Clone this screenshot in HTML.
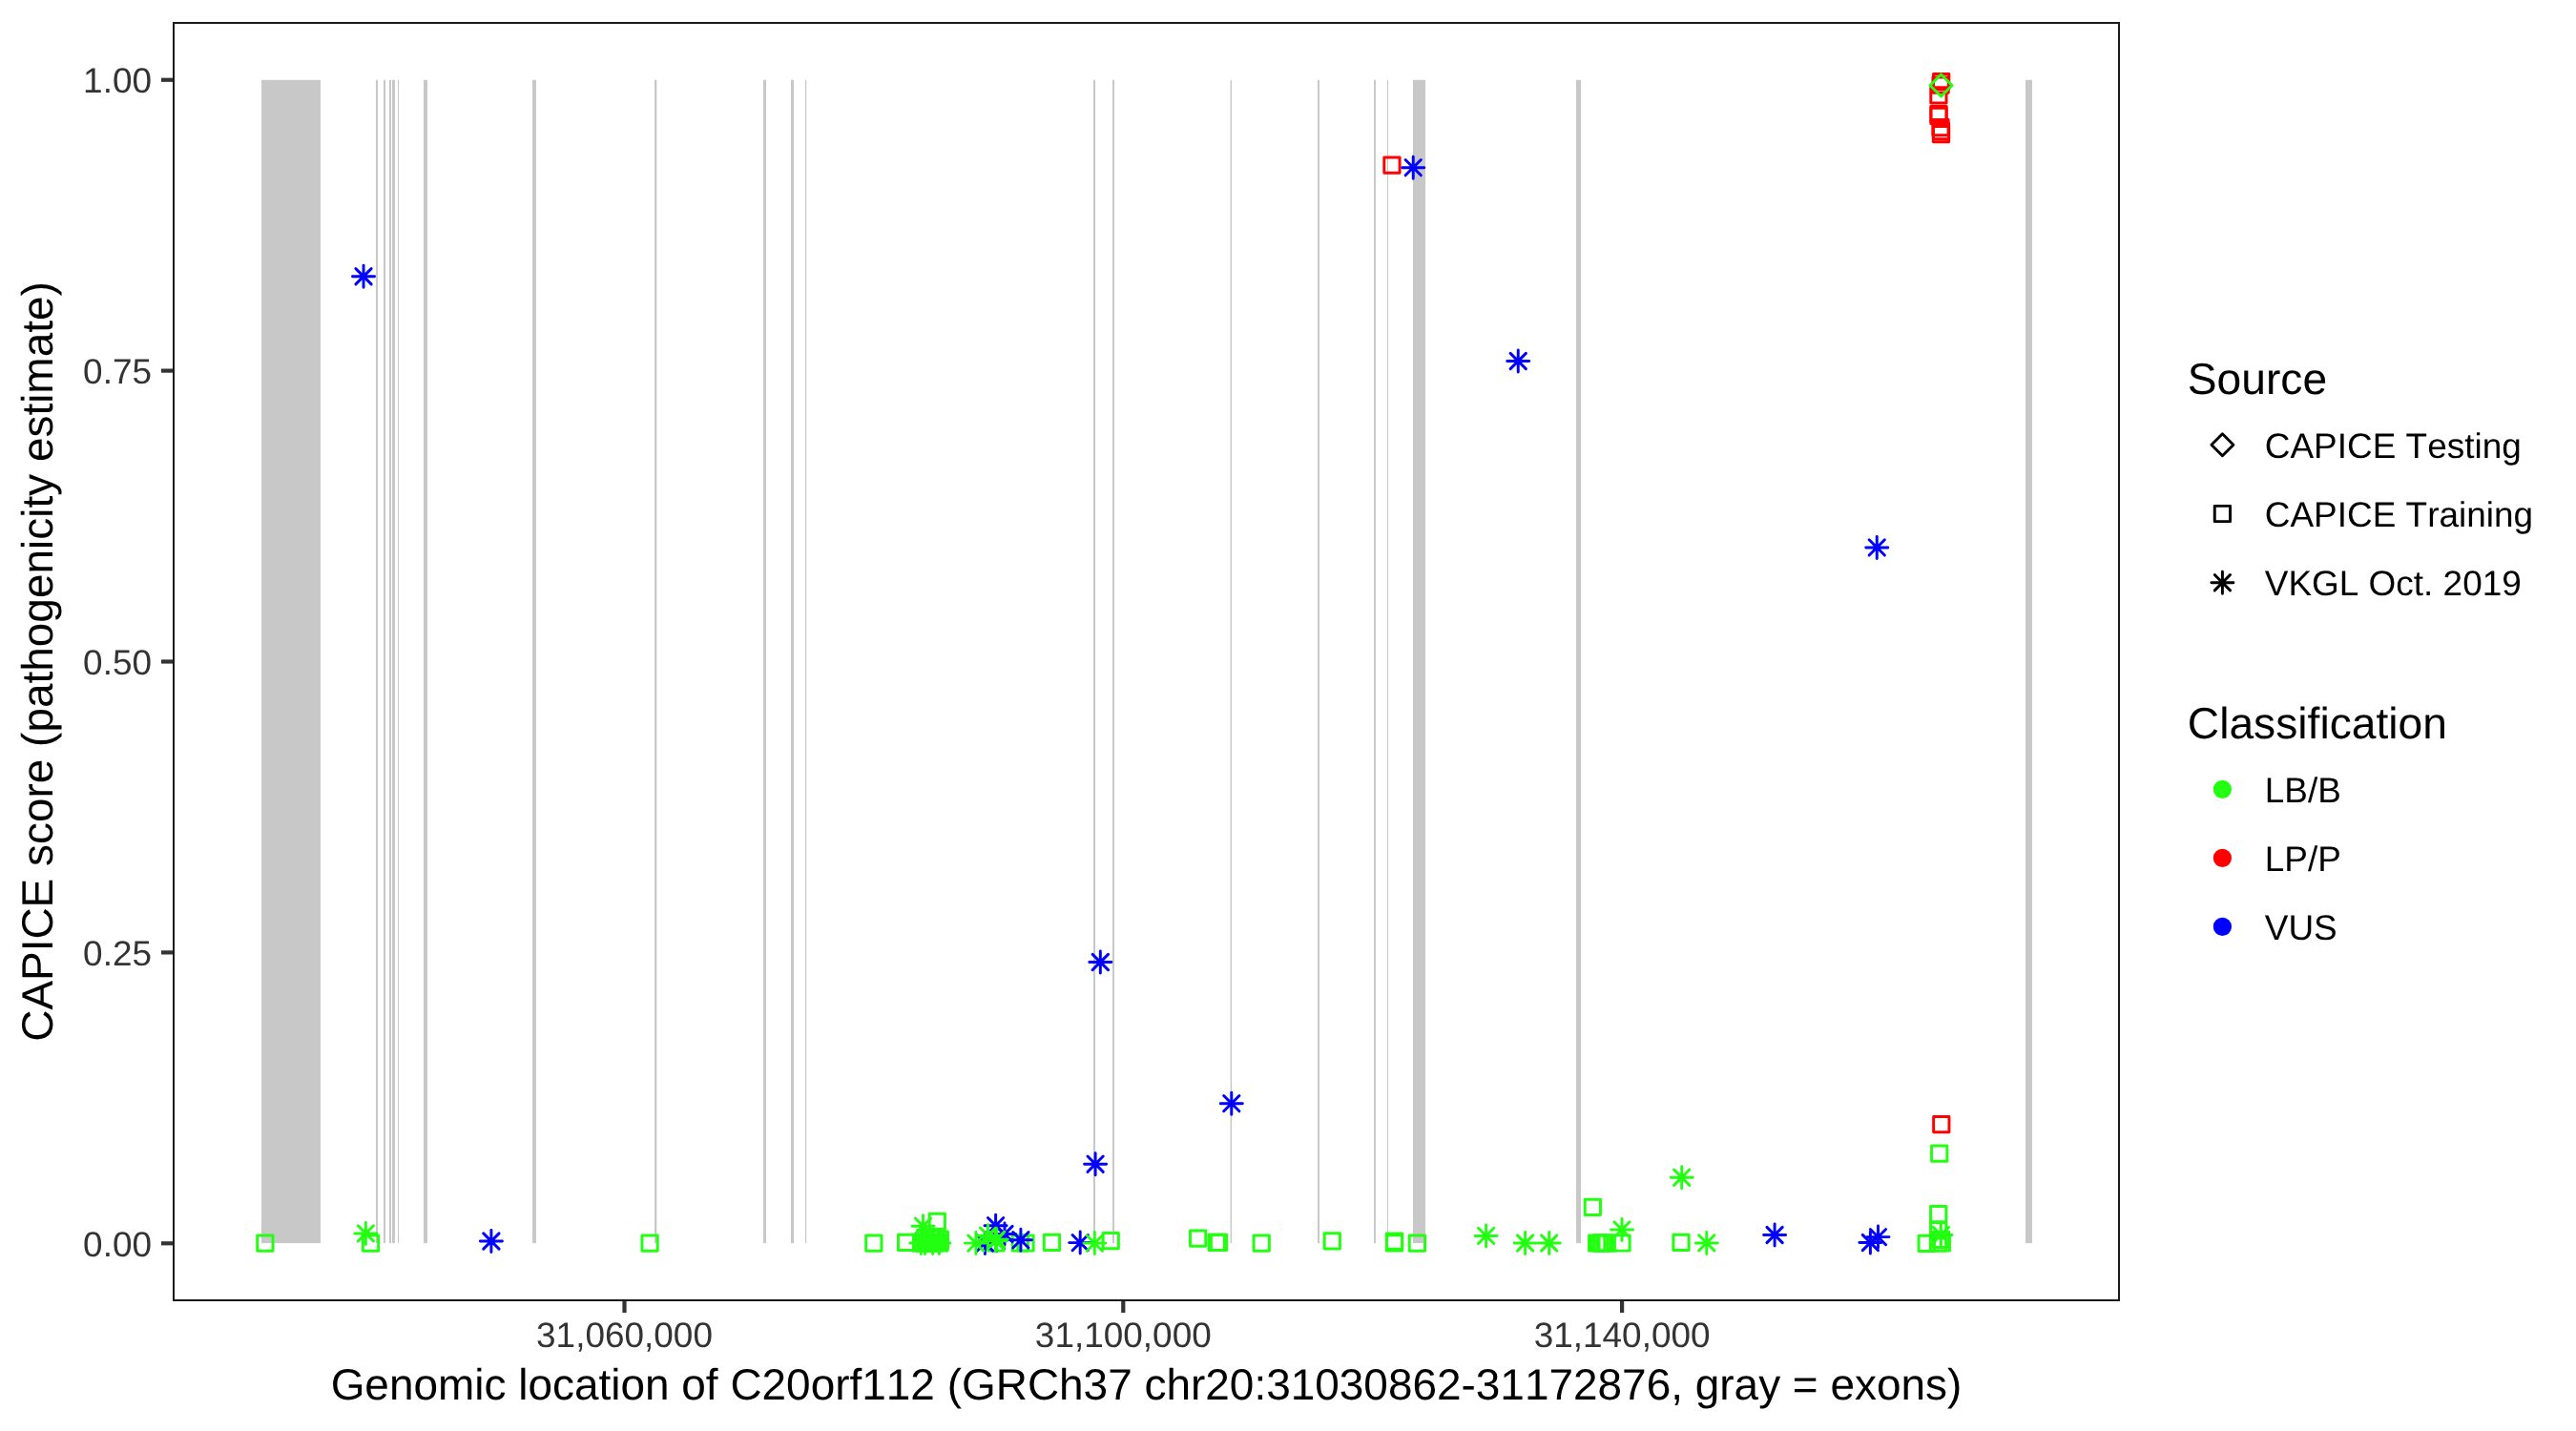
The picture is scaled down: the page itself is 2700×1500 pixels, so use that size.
<!DOCTYPE html>
<html><head><meta charset="utf-8"><title>CAPICE plot</title>
<style>html,body{margin:0;padding:0;background:#fff;width:2700px;height:1500px;overflow:hidden;}svg{display:block;will-change:transform;}</style>
</head><body>
<svg width="2700" height="1500" viewBox="0 0 2700 1500">
<defs><clipPath id="pc"><rect x="181" y="23" width="2041" height="1341"/></clipPath></defs>
<style>
text{font-family:"Liberation Sans",sans-serif;font-kerning:none;font-feature-settings:"kern" 0;text-rendering:geometricPrecision;}
.ax{font-size:36.95px;fill:#333333;}
.ti{font-size:45.95px;fill:#000000;}
.lg{font-size:46.2px;fill:#000000;}
.lt{font-size:36.95px;fill:#000000;}
</style>
<rect x="0" y="0" width="2700" height="1500" fill="#FFFFFF"/>
<rect x="274" y="83.8" width="62" height="1219.3" fill="#C8C8C8"/>
<rect x="394" y="83.8" width="2" height="1219.3" fill="#C8C8C8"/>
<rect x="402" y="83.8" width="2" height="1219.3" fill="#C8C8C8"/>
<rect x="408" y="83.8" width="2" height="1219.3" fill="#C8C8C8"/>
<rect x="411" y="83.8" width="3" height="1219.3" fill="#C8C8C8"/>
<rect x="417" y="83.8" width="1" height="1219.3" fill="#C8C8C8"/>
<rect x="444" y="83.8" width="4" height="1219.3" fill="#C8C8C8"/>
<rect x="558" y="83.8" width="4" height="1219.3" fill="#C8C8C8"/>
<rect x="686" y="83.8" width="2.3" height="1219.3" fill="#C8C8C8"/>
<rect x="800" y="83.8" width="3" height="1219.3" fill="#C8C8C8"/>
<rect x="829" y="83.8" width="3" height="1219.3" fill="#C8C8C8"/>
<rect x="844" y="83.8" width="1.2" height="1219.3" fill="#C8C8C8"/>
<rect x="1146" y="83.8" width="2" height="1219.3" fill="#C8C8C8"/>
<rect x="1166" y="83.8" width="2" height="1219.3" fill="#C8C8C8"/>
<rect x="1289.6" y="83.8" width="1.5" height="1219.3" fill="#C8C8C8"/>
<rect x="1381" y="83.8" width="2" height="1219.3" fill="#C8C8C8"/>
<rect x="1440" y="83.8" width="2" height="1219.3" fill="#C8C8C8"/>
<rect x="1454" y="83.8" width="1" height="1219.3" fill="#C8C8C8"/>
<rect x="1481" y="83.8" width="13" height="1219.3" fill="#C8C8C8"/>
<rect x="1652" y="83.8" width="5" height="1219.3" fill="#C8C8C8"/>
<rect x="2123" y="83.8" width="7" height="1219.3" fill="#C8C8C8"/>
<g clip-path="url(#pc)"><rect x="1450.8" y="165.01" width="16.28" height="16.28" fill="none" stroke="#FF0000" stroke-width="2.95" stroke-linejoin="round"/><rect x="2026.56" y="77.56" width="16.28" height="16.28" fill="none" stroke="#FF0000" stroke-width="2.95" stroke-linejoin="round"/><rect x="2025.96" y="80.96" width="16.28" height="16.28" fill="none" stroke="#FF0000" stroke-width="2.95" stroke-linejoin="round"/><rect x="2023.76" y="91.66" width="16.28" height="16.28" fill="none" stroke="#FF0000" stroke-width="2.95" stroke-linejoin="round"/><rect x="2023.86" y="111.36" width="16.28" height="16.28" fill="none" stroke="#FF0000" stroke-width="2.95" stroke-linejoin="round"/><rect x="2023.86" y="113.36" width="16.28" height="16.28" fill="none" stroke="#FF0000" stroke-width="2.95" stroke-linejoin="round"/><rect x="2025.86" y="125.46" width="16.28" height="16.28" fill="none" stroke="#FF0000" stroke-width="2.95" stroke-linejoin="round"/><rect x="2026.36" y="129.56" width="16.28" height="16.28" fill="none" stroke="#FF0000" stroke-width="2.95" stroke-linejoin="round"/><rect x="2026.36" y="132.56" width="16.28" height="16.28" fill="none" stroke="#FF0000" stroke-width="2.95" stroke-linejoin="round"/><rect x="2026.66" y="1170.41" width="16.28" height="16.28" fill="none" stroke="#FF0000" stroke-width="2.95" stroke-linejoin="round"/><rect x="2024.56" y="1200.91" width="16.28" height="16.28" fill="none" stroke="#22FF10" stroke-width="2.95" stroke-linejoin="round"/><rect x="1661.21" y="1257.26" width="16.28" height="16.28" fill="none" stroke="#22FF10" stroke-width="2.95" stroke-linejoin="round"/><rect x="269.71" y="1294.96" width="16.28" height="16.28" fill="none" stroke="#22FF10" stroke-width="2.95" stroke-linejoin="round"/><rect x="380.36" y="1295.06" width="16.28" height="16.28" fill="none" stroke="#22FF10" stroke-width="2.95" stroke-linejoin="round"/><rect x="672.96" y="1294.96" width="16.28" height="16.28" fill="none" stroke="#22FF10" stroke-width="2.95" stroke-linejoin="round"/><rect x="907.66" y="1294.91" width="16.28" height="16.28" fill="none" stroke="#22FF10" stroke-width="2.95" stroke-linejoin="round"/><rect x="941.46" y="1294.26" width="16.28" height="16.28" fill="none" stroke="#22FF10" stroke-width="2.95" stroke-linejoin="round"/><rect x="974.16" y="1272.16" width="16.28" height="16.28" fill="none" stroke="#22FF10" stroke-width="2.95" stroke-linejoin="round"/><rect x="957.56" y="1294.86" width="16.28" height="16.28" fill="none" stroke="#22FF10" stroke-width="2.95" stroke-linejoin="round"/><rect x="959.86" y="1294.86" width="16.28" height="16.28" fill="none" stroke="#22FF10" stroke-width="2.95" stroke-linejoin="round"/><rect x="962.86" y="1294.86" width="16.28" height="16.28" fill="none" stroke="#22FF10" stroke-width="2.95" stroke-linejoin="round"/><rect x="965.86" y="1294.86" width="16.28" height="16.28" fill="none" stroke="#22FF10" stroke-width="2.95" stroke-linejoin="round"/><rect x="968.86" y="1294.86" width="16.28" height="16.28" fill="none" stroke="#22FF10" stroke-width="2.95" stroke-linejoin="round"/><rect x="971.86" y="1294.86" width="16.28" height="16.28" fill="none" stroke="#22FF10" stroke-width="2.95" stroke-linejoin="round"/><rect x="974.86" y="1294.86" width="16.28" height="16.28" fill="none" stroke="#22FF10" stroke-width="2.95" stroke-linejoin="round"/><rect x="977.16" y="1293.86" width="16.28" height="16.28" fill="none" stroke="#22FF10" stroke-width="2.95" stroke-linejoin="round"/><rect x="966.86" y="1289.26" width="16.28" height="16.28" fill="none" stroke="#22FF10" stroke-width="2.95" stroke-linejoin="round"/><rect x="971.86" y="1289.26" width="16.28" height="16.28" fill="none" stroke="#22FF10" stroke-width="2.95" stroke-linejoin="round"/><rect x="961.86" y="1289.26" width="16.28" height="16.28" fill="none" stroke="#22FF10" stroke-width="2.95" stroke-linejoin="round"/><rect x="977.16" y="1290.86" width="16.28" height="16.28" fill="none" stroke="#22FF10" stroke-width="2.95" stroke-linejoin="round"/><rect x="1035.86" y="1294.86" width="16.28" height="16.28" fill="none" stroke="#22FF10" stroke-width="2.95" stroke-linejoin="round"/><rect x="1061.16" y="1294.86" width="16.28" height="16.28" fill="none" stroke="#22FF10" stroke-width="2.95" stroke-linejoin="round"/><rect x="1066.86" y="1294.86" width="16.28" height="16.28" fill="none" stroke="#22FF10" stroke-width="2.95" stroke-linejoin="round"/><rect x="1094.31" y="1294.16" width="16.28" height="16.28" fill="none" stroke="#22FF10" stroke-width="2.95" stroke-linejoin="round"/><rect x="1156.11" y="1292.46" width="16.28" height="16.28" fill="none" stroke="#22FF10" stroke-width="2.95" stroke-linejoin="round"/><rect x="1247.46" y="1289.96" width="16.28" height="16.28" fill="none" stroke="#22FF10" stroke-width="2.95" stroke-linejoin="round"/><rect x="1267.06" y="1294.16" width="16.28" height="16.28" fill="none" stroke="#22FF10" stroke-width="2.95" stroke-linejoin="round"/><rect x="1269.36" y="1294.16" width="16.28" height="16.28" fill="none" stroke="#22FF10" stroke-width="2.95" stroke-linejoin="round"/><rect x="1314.11" y="1294.96" width="16.28" height="16.28" fill="none" stroke="#22FF10" stroke-width="2.95" stroke-linejoin="round"/><rect x="1388.16" y="1292.76" width="16.28" height="16.28" fill="none" stroke="#22FF10" stroke-width="2.95" stroke-linejoin="round"/><rect x="1453.36" y="1292.86" width="16.28" height="16.28" fill="none" stroke="#22FF10" stroke-width="2.95" stroke-linejoin="round"/><rect x="1453.36" y="1294.86" width="16.28" height="16.28" fill="none" stroke="#22FF10" stroke-width="2.95" stroke-linejoin="round"/><rect x="1477.26" y="1294.96" width="16.28" height="16.28" fill="none" stroke="#22FF10" stroke-width="2.95" stroke-linejoin="round"/><rect x="1665.56" y="1294.86" width="16.28" height="16.28" fill="none" stroke="#22FF10" stroke-width="2.95" stroke-linejoin="round"/><rect x="1668.46" y="1294.86" width="16.28" height="16.28" fill="none" stroke="#22FF10" stroke-width="2.95" stroke-linejoin="round"/><rect x="1671.36" y="1294.86" width="16.28" height="16.28" fill="none" stroke="#22FF10" stroke-width="2.95" stroke-linejoin="round"/><rect x="1674.26" y="1294.86" width="16.28" height="16.28" fill="none" stroke="#22FF10" stroke-width="2.95" stroke-linejoin="round"/><rect x="1676.06" y="1294.86" width="16.28" height="16.28" fill="none" stroke="#22FF10" stroke-width="2.95" stroke-linejoin="round"/><rect x="1691.86" y="1294.86" width="16.28" height="16.28" fill="none" stroke="#22FF10" stroke-width="2.95" stroke-linejoin="round"/><rect x="1753.86" y="1294.26" width="16.28" height="16.28" fill="none" stroke="#22FF10" stroke-width="2.95" stroke-linejoin="round"/><rect x="2011.06" y="1295.16" width="16.28" height="16.28" fill="none" stroke="#22FF10" stroke-width="2.95" stroke-linejoin="round"/><rect x="2023.56" y="1264.56" width="16.28" height="16.28" fill="none" stroke="#22FF10" stroke-width="2.95" stroke-linejoin="round"/><rect x="2023.56" y="1281.46" width="16.28" height="16.28" fill="none" stroke="#22FF10" stroke-width="2.95" stroke-linejoin="round"/><rect x="2023.36" y="1294.86" width="16.28" height="16.28" fill="none" stroke="#22FF10" stroke-width="2.95" stroke-linejoin="round"/><rect x="2026.36" y="1291.16" width="16.28" height="16.28" fill="none" stroke="#22FF10" stroke-width="2.95" stroke-linejoin="round"/><rect x="2027.16" y="1294.86" width="16.28" height="16.28" fill="none" stroke="#22FF10" stroke-width="2.95" stroke-linejoin="round"/><path d="M372.89 281.63L389.17 297.91M372.89 297.91L389.17 281.63M369.52 289.77L392.54 289.77M381.03 278.26L381.03 301.28" fill="none" stroke="#0000FF" stroke-width="2.95" stroke-linecap="round"/><path d="M1473.09 167.54L1489.37 183.82M1473.09 183.82L1489.37 167.54M1469.72 175.68L1492.74 175.68M1481.23 164.17L1481.23 187.19" fill="none" stroke="#0000FF" stroke-width="2.95" stroke-linecap="round"/><path d="M1583.1 370.36L1599.38 386.64M1583.1 386.64L1599.38 370.36M1579.73 378.5L1602.75 378.5M1591.24 366.99L1591.24 390.01" fill="none" stroke="#0000FF" stroke-width="2.95" stroke-linecap="round"/><path d="M1959.11 565.79L1975.39 582.07M1959.11 582.07L1975.39 565.79M1955.74 573.93L1978.76 573.93M1967.25 562.42L1967.25 585.44" fill="none" stroke="#0000FF" stroke-width="2.95" stroke-linecap="round"/><path d="M1145.19 1000.36L1161.47 1016.64M1145.19 1016.64L1161.47 1000.36M1141.82 1008.5L1164.84 1008.5M1153.33 996.99L1153.33 1020.01" fill="none" stroke="#0000FF" stroke-width="2.95" stroke-linecap="round"/><path d="M1282.66 1148.52L1298.94 1164.8M1282.66 1164.8L1298.94 1148.52M1279.29 1156.66L1302.31 1156.66M1290.8 1145.15L1290.8 1168.17" fill="none" stroke="#0000FF" stroke-width="2.95" stroke-linecap="round"/><path d="M1139.96 1212.06L1156.24 1228.34M1139.96 1228.34L1156.24 1212.06M1136.59 1220.2L1159.61 1220.2M1148.1 1208.69L1148.1 1231.71" fill="none" stroke="#0000FF" stroke-width="2.95" stroke-linecap="round"/><path d="M506.76 1292.86L523.04 1309.14M506.76 1309.14L523.04 1292.86M503.39 1301L526.41 1301M514.9 1289.49L514.9 1312.51" fill="none" stroke="#0000FF" stroke-width="2.95" stroke-linecap="round"/><path d="M1035.46 1276.56L1051.74 1292.84M1035.46 1292.84L1051.74 1276.56M1032.09 1284.7L1055.11 1284.7M1043.6 1273.19L1043.6 1296.21" fill="none" stroke="#0000FF" stroke-width="2.95" stroke-linecap="round"/><path d="M1024.26 1294.86L1040.54 1311.14M1024.26 1311.14L1040.54 1294.86M1020.89 1303L1043.91 1303M1032.4 1291.49L1032.4 1314.51" fill="none" stroke="#0000FF" stroke-width="2.95" stroke-linecap="round"/><path d="M1044.86 1285.36L1061.14 1301.64M1044.86 1301.64L1061.14 1285.36M1041.49 1293.5L1064.51 1293.5M1053 1281.99L1053 1305.01" fill="none" stroke="#0000FF" stroke-width="2.95" stroke-linecap="round"/><path d="M1036.16 1292.16L1052.44 1308.44M1036.16 1308.44L1052.44 1292.16M1032.79 1300.3L1055.81 1300.3M1044.3 1288.79L1044.3 1311.81" fill="none" stroke="#0000FF" stroke-width="2.95" stroke-linecap="round"/><path d="M1061.76 1291.66L1078.04 1307.94M1061.76 1307.94L1078.04 1291.66M1058.39 1299.8L1081.41 1299.8M1069.9 1288.29L1069.9 1311.31" fill="none" stroke="#0000FF" stroke-width="2.95" stroke-linecap="round"/><path d="M1124.06 1294.46L1140.34 1310.74M1124.06 1310.74L1140.34 1294.46M1120.69 1302.6L1143.71 1302.6M1132.2 1291.09L1132.2 1314.11" fill="none" stroke="#0000FF" stroke-width="2.95" stroke-linecap="round"/><path d="M1851.96 1286.36L1868.24 1302.64M1851.96 1302.64L1868.24 1286.36M1848.59 1294.5L1871.61 1294.5M1860.1 1282.99L1860.1 1306.01" fill="none" stroke="#0000FF" stroke-width="2.95" stroke-linecap="round"/><path d="M1952.26 1294.36L1968.54 1310.64M1952.26 1310.64L1968.54 1294.36M1948.89 1302.5L1971.91 1302.5M1960.4 1290.99L1960.4 1314.01" fill="none" stroke="#0000FF" stroke-width="2.95" stroke-linecap="round"/><path d="M1960.36 1288.46L1976.64 1304.74M1960.36 1304.74L1976.64 1288.46M1956.99 1296.6L1980.01 1296.6M1968.5 1285.09L1968.5 1308.11" fill="none" stroke="#0000FF" stroke-width="2.95" stroke-linecap="round"/><path d="M375.21 1284.76L391.49 1301.04M375.21 1301.04L391.49 1284.76M371.84 1292.9L394.86 1292.9M383.35 1281.39L383.35 1304.41" fill="none" stroke="#22FF10" stroke-width="2.95" stroke-linecap="round"/><path d="M959.36 1277.06L975.64 1293.34M959.36 1293.34L975.64 1277.06M955.99 1285.2L979.01 1285.2M967.5 1273.69L967.5 1296.71" fill="none" stroke="#22FF10" stroke-width="2.95" stroke-linecap="round"/><path d="M957.16 1294.86L973.44 1311.14M957.16 1311.14L973.44 1294.86M953.79 1303L976.81 1303M965.3 1291.49L965.3 1314.51" fill="none" stroke="#22FF10" stroke-width="2.95" stroke-linecap="round"/><path d="M961.36 1294.86L977.64 1311.14M961.36 1311.14L977.64 1294.86M957.99 1303L981.01 1303M969.5 1291.49L969.5 1314.51" fill="none" stroke="#22FF10" stroke-width="2.95" stroke-linecap="round"/><path d="M969.46 1294.86L985.74 1311.14M969.46 1311.14L985.74 1294.86M966.09 1303L989.11 1303M977.6 1291.49L977.6 1314.51" fill="none" stroke="#22FF10" stroke-width="2.95" stroke-linecap="round"/><path d="M976.26 1294.86L992.54 1311.14M976.26 1311.14L992.54 1294.86M972.89 1303L995.91 1303M984.4 1291.49L984.4 1314.51" fill="none" stroke="#22FF10" stroke-width="2.95" stroke-linecap="round"/><path d="M1014.76 1294.96L1031.04 1311.24M1014.76 1311.24L1031.04 1294.96M1011.39 1303.1L1034.41 1303.1M1022.9 1291.59L1022.9 1314.61" fill="none" stroke="#22FF10" stroke-width="2.95" stroke-linecap="round"/><path d="M1027.36 1287.06L1043.64 1303.34M1027.36 1303.34L1043.64 1287.06M1023.99 1295.2L1047.01 1295.2M1035.5 1283.69L1035.5 1306.71" fill="none" stroke="#22FF10" stroke-width="2.95" stroke-linecap="round"/><path d="M1036.56 1291.06L1052.84 1307.34M1036.56 1307.34L1052.84 1291.06M1033.19 1299.2L1056.21 1299.2M1044.7 1287.69L1044.7 1310.71" fill="none" stroke="#22FF10" stroke-width="2.95" stroke-linecap="round"/><path d="M1035.36 1292.66L1051.64 1308.94M1035.36 1308.94L1051.64 1292.66M1031.99 1300.8L1055.01 1300.8M1043.5 1289.29L1043.5 1312.31" fill="none" stroke="#22FF10" stroke-width="2.95" stroke-linecap="round"/><path d="M1139.16 1294.96L1155.44 1311.24M1139.16 1311.24L1155.44 1294.96M1135.79 1303.1L1158.81 1303.1M1147.3 1291.59L1147.3 1314.61" fill="none" stroke="#22FF10" stroke-width="2.95" stroke-linecap="round"/><path d="M1549.46 1287.26L1565.74 1303.54M1549.46 1303.54L1565.74 1287.26M1546.09 1295.4L1569.11 1295.4M1557.6 1283.89L1557.6 1306.91" fill="none" stroke="#22FF10" stroke-width="2.95" stroke-linecap="round"/><path d="M1590.46 1294.86L1606.74 1311.14M1590.46 1311.14L1606.74 1294.86M1587.09 1303L1610.11 1303M1598.6 1291.49L1598.6 1314.51" fill="none" stroke="#22FF10" stroke-width="2.95" stroke-linecap="round"/><path d="M1615.56 1294.86L1631.84 1311.14M1615.56 1311.14L1631.84 1294.86M1612.19 1303L1635.21 1303M1623.7 1291.49L1623.7 1314.51" fill="none" stroke="#22FF10" stroke-width="2.95" stroke-linecap="round"/><path d="M1691.86 1280.76L1708.14 1297.04M1691.86 1297.04L1708.14 1280.76M1688.49 1288.9L1711.51 1288.9M1700 1277.39L1700 1300.41" fill="none" stroke="#22FF10" stroke-width="2.95" stroke-linecap="round"/><path d="M1754.56 1226.06L1770.84 1242.34M1754.56 1242.34L1770.84 1226.06M1751.19 1234.2L1774.21 1234.2M1762.7 1222.69L1762.7 1245.71" fill="none" stroke="#22FF10" stroke-width="2.95" stroke-linecap="round"/><path d="M1780.66 1294.76L1796.94 1311.04M1780.66 1311.04L1796.94 1294.76M1777.29 1302.9L1800.31 1302.9M1788.8 1291.39L1788.8 1314.41" fill="none" stroke="#22FF10" stroke-width="2.95" stroke-linecap="round"/><path d="M2026.26 1286.36L2042.54 1302.64M2026.26 1302.64L2042.54 1286.36M2022.89 1294.5L2045.91 1294.5M2034.4 1282.99L2034.4 1306.01" fill="none" stroke="#22FF10" stroke-width="2.95" stroke-linecap="round"/><path d="M2034.5 77.99L2046.01 89.5L2034.5 101.01L2022.99 89.5Z" fill="none" stroke="#22FF10" stroke-width="2.95" stroke-linejoin="round"/></g>
<rect x="181" y="23" width="2041" height="1341" fill="none" stroke="#1A1A1A" stroke-width="4" clip-path="url(#pc)"/>
<rect x="169" y="81.65" width="12" height="4.2" fill="#333333"/>
<text x="159" y="97.35" text-anchor="end" class="ax">1.00</text>
<rect x="169" y="386.5" width="12" height="4.2" fill="#333333"/>
<text x="159" y="402.2" text-anchor="end" class="ax">0.75</text>
<rect x="169" y="691.4" width="12" height="4.2" fill="#333333"/>
<text x="159" y="707.1" text-anchor="end" class="ax">0.50</text>
<rect x="169" y="996.3" width="12" height="4.2" fill="#333333"/>
<text x="159" y="1012" text-anchor="end" class="ax">0.25</text>
<rect x="169" y="1301.2" width="12" height="4.2" fill="#333333"/>
<text x="159" y="1316.9" text-anchor="end" class="ax">0.00</text>
<rect x="652.4" y="1364" width="4.2" height="12" fill="#333333"/>
<text x="654.5" y="1411.7" text-anchor="middle" class="ax">31,060,000</text>
<rect x="1175.2" y="1364" width="4.2" height="12" fill="#333333"/>
<text x="1177.3" y="1411.7" text-anchor="middle" class="ax">31,100,000</text>
<rect x="1698" y="1364" width="4.2" height="12" fill="#333333"/>
<text x="1700.1" y="1411.7" text-anchor="middle" class="ax">31,140,000</text>
<text x="1201.5" y="1467.1" text-anchor="middle" class="ti">Genomic location of C20orf112 (GRCh37 chr20:31030862-31172876, gray = exons)</text>
<text transform="translate(55,693.5) rotate(-90)" x="0" y="0" text-anchor="middle" class="ti">CAPICE score (pathogenicity estimate)</text>
<text x="2292.8" y="412.9" class="lg">Source</text>
<path d="M2329.4 454.79L2340.91 466.3L2329.4 477.81L2317.89 466.3Z" fill="none" stroke="#000000" stroke-width="2.95" stroke-linejoin="round"/>
<text x="2373.8" y="479.9" class="lt">CAPICE Testing</text>
<rect x="2321.26" y="530.36" width="16.28" height="16.28" fill="none" stroke="#000000" stroke-width="2.95" stroke-linejoin="round"/>
<text x="2373.8" y="552.1" class="lt">CAPICE Training</text>
<path d="M2321.26 602.56L2337.54 618.84M2321.26 618.84L2337.54 602.56M2317.89 610.7L2340.91 610.7M2329.4 599.19L2329.4 622.21" fill="none" stroke="#000000" stroke-width="2.95" stroke-linecap="round"/>
<text x="2373.8" y="624.3" class="lt">VKGL Oct. 2019</text>
<text x="2292.8" y="773.8" class="lg">Classification</text>
<circle cx="2329.4" cy="827.4" r="8.14" fill="#22FF10" stroke="#22FF10" stroke-width="2.95"/>
<text x="2373.8" y="840.9" class="lt">LB/B</text>
<circle cx="2329.4" cy="899.4" r="8.14" fill="#FF0000" stroke="#FF0000" stroke-width="2.95"/>
<text x="2373.8" y="912.9" class="lt">LP/P</text>
<circle cx="2329.4" cy="971.4" r="8.14" fill="#0000FF" stroke="#0000FF" stroke-width="2.95"/>
<text x="2373.8" y="984.9" class="lt">VUS</text>
</svg>
</body></html>
